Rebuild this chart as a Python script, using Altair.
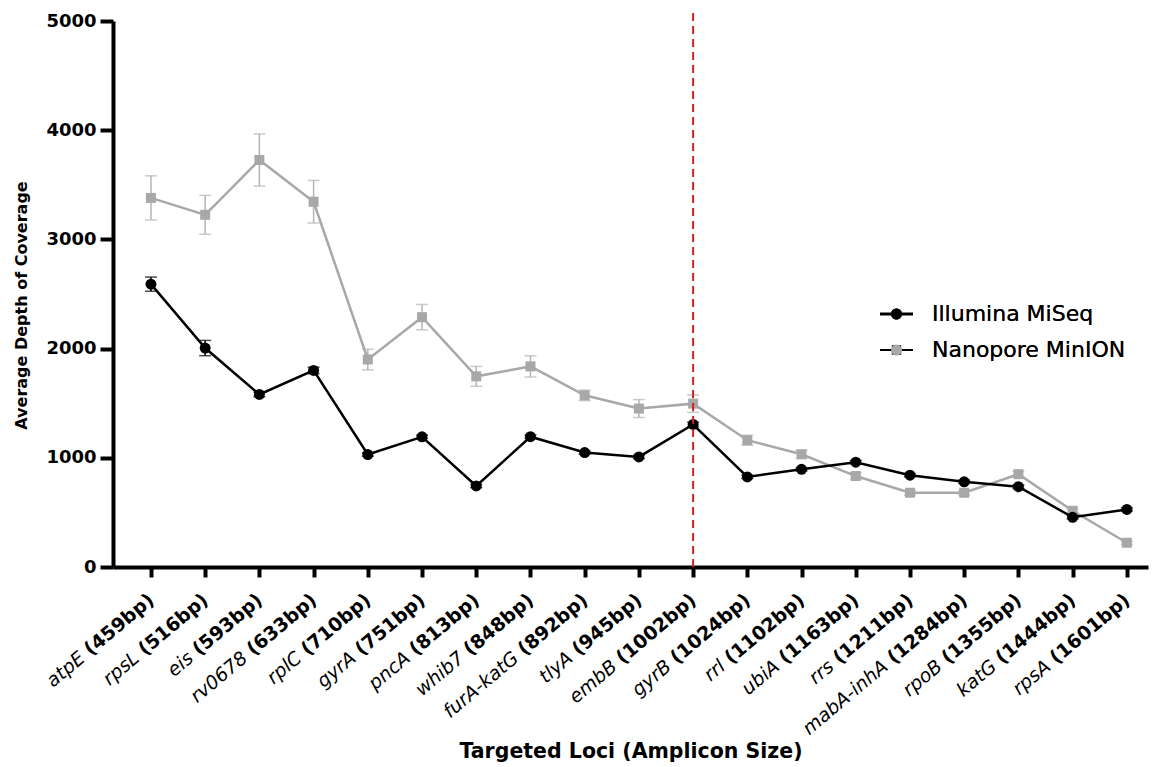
import json
import altair as alt
import pandas as pd

loci = ["atpE", "rpsL", "eis", "rv0678", "rplC", "gyrA", "pncA", "whib7", "furA-katG",
        "tlyA", "embB", "gyrB", "rrl", "ubiA", "rrs", "mabA-inhA", "rpoB", "katG", "rpsA"]
amplicon_sizes = ["459bp", "516bp", "593bp", "633bp", "710bp", "751bp", "813bp", "848bp", "892bp",
                  "945bp", "1002bp", "1024bp", "1102bp", "1163bp", "1211bp", "1284bp", "1355bp",
                  "1444bp", "1601bp"]
illumina_depth = [2590, 2005, 1580, 1800, 1030, 1192, 742, 1193, 1048, 1008, 1305, 825, 895,
                  960, 841, 780, 735, 455, 527]
illumina_err = [65, 70, 20, 30, 15, 15, 15, 15, 15, 15, 20, 15, 15, 15, 15, 15, 15, 15, 15]
nanopore_depth = [3380, 3225, 3727, 3345, 1900, 2288, 1746, 1837, 1572, 1451, 1496, 1161, 1032,
                  833, 680, 680, 850, 515, 222]
nanopore_err = [202, 178, 239, 195, 95, 116, 91, 97, 48, 82, 80, 45, 37, 30, 20, 20, 25, 20, 15]
series_names = ["Illumina MiSeq", "Nanopore MinION"]
series_colors = ["#000000", "#a8a8a8"]
divider_locus = "embB"
divider_top = 5090
y_ticks = [0, 1000, 2000, 3000, 4000, 5000]

labels = [f"{g} ({s})" for g, s in zip(loci, amplicon_sizes)]
positions = list(range(len(labels)))

rows = []
for name, vals, errs in [(series_names[0], illumina_depth, illumina_err),
                         (series_names[1], nanopore_depth, nanopore_err)]:
    for i, (v, e) in enumerate(zip(vals, errs)):
        rows.append({"idx": i, "series": name, "depth": v, "lo": v - e, "hi": v + e})
df = pd.DataFrame(rows)

FONT = "DejaVu Sans"
LABEL_SIZE = 19
ANGLE = -40
LBL = json.dumps(labels)

x_scale = alt.Scale(domain=[-0.70, 18.39], nice=False, zero=False)
y_scale = alt.Scale(domain=[0, 5000], nice=False, zero=True)
color_scale = alt.Scale(domain=series_names, range=series_colors)

y_axis = alt.Axis(values=y_ticks, format="d", labelFont=FONT, labelFontWeight="bold",
                  labelFontSize=18, labelColor="black", labelPadding=4, domainColor="black",
                  domainWidth=4, tickColor="black", tickWidth=4, tickSize=13, grid=False,
                  title="Average Depth of Coverage", titleFont=FONT, titleFontWeight="bold",
                  titleFontSize=16, titleColor="black", titlePadding=16, titleY=284)

bp_axis = alt.Axis(orient="bottom", values=positions,
                   labelExpr=f"'(' + split({LBL}[datum.value], ' (')[1]",
                   labelAngle=ANGLE, labelAlign="right", labelBaseline="middle",
                   labelFont=FONT, labelFontWeight="bold", labelFontSize=LABEL_SIZE,
                   labelColor="black", labelPadding=20, labelOverlap=False, labelLimit=400,
                   labelFlush=False, labelBound=False,
                   domainColor="black", domainWidth=4, tickColor="black", tickWidth=4,
                   tickSize=10, grid=False,
                   title="Targeted Loci (Amplicon Size)", titleFont=FONT, titleFontWeight="bold",
                   titleFontSize=20.5, titleColor="black", titleBaseline="alphabetic", titleY=190)

cond_test = f"length(split({LBL}[datum.value], ' (')[1]) > 6"
gene_axis = alt.Axis(orient="bottom", values=positions,
                     labelExpr=f"split({LBL}[datum.value], ' (')[0]",
                     labelAngle=ANGLE, labelAlign="right", labelBaseline="middle",
                     labelFont=FONT, labelFontStyle="italic", labelFontWeight="normal",
                     labelFontSize=LABEL_SIZE, labelColor="black",
                     labelPadding={"condition": {"test": cond_test, "value": 20 + 66.5},
                                   "value": 20 + 58.1},
                     labelOffset={"condition": {"test": cond_test, "value": -79.3},
                                  "value": -69.2},
                     labelOverlap=False, labelLimit=400, labelFlush=False, labelBound=False,
                     domain=False, ticks=True, tickSize=10, tickOpacity=0, grid=False, title=None)


def xenc(axis=None):
    return alt.X("idx:Q", scale=x_scale, axis=axis)


def yenc(field):
    return alt.Y(f"{field}:Q", scale=y_scale, axis=y_axis)


def series_layers(name, err_color, x_axis, shape, size, cap_color):
    src = alt.Chart(df).transform_filter(alt.datum.series == name)
    err = src.mark_rule(color=err_color, strokeWidth=1.5).encode(
        x=xenc(), y=yenc("lo"), y2="hi:Q")
    cap_lo = src.mark_tick(color=cap_color, thickness=1.5, size=12, orient="horizontal").encode(
        x=xenc(), y=yenc("lo"))
    cap_hi = src.mark_tick(color=cap_color, thickness=1.5, size=12, orient="horizontal").encode(
        x=xenc(), y=yenc("hi"))
    line = src.mark_line(strokeWidth=2.5).encode(
        x=xenc(x_axis), y=yenc("depth"),
        color=alt.Color("series:N", scale=color_scale, legend=None))
    pts = src.mark_point(shape=shape, filled=True, size=size, opacity=1).encode(
        x=xenc(), y=yenc("depth"),
        color=alt.Color("series:N", scale=color_scale, legend=None))
    return [err, cap_lo, cap_hi, line, pts]


grey = series_layers(series_names[1], "#b4b4b4", bp_axis, "square", 100, "#b4b4b4")
black = series_layers(series_names[0], "#000000", gene_axis, "circle", 120, "#000000")

divider = alt.Chart(pd.DataFrame({"idx": [loci.index(divider_locus)], "bottom": [0],
                                  "top": [divider_top]})
                    ).mark_rule(color="#cc2222", strokeDash=[8, 5], strokeWidth=2).encode(
    x=xenc(), y=yenc("bottom"), y2="top:Q")

legend_paths = [
    "M-3,-0.27H-0.97V0.27H-3Z M0.97,-0.27H3V0.27H0.97Z M-1,0A1,1,0,1,0,1,0A1,1,0,1,0,-1,0Z",
    "M-3,-0.2H-0.85V0.2H-3Z M0.85,-0.2H3V0.2H0.85Z M-0.85,-0.85H0.85V0.85H-0.85Z",
]
leg = alt.Legend(title=None, orient="none", legendX=772.5, legendY=282, labelFont=FONT,
                 labelFontSize=22, labelColor="black", labelLimit=400, symbolSize=121,
                 labelOffset=24.5, rowPadding=14, padding=0, symbolStrokeWidth=0,
                 symbolOpacity=1)
legend_layer = alt.Chart(pd.DataFrame({"series": series_names})).mark_point(
    filled=True, opacity=0).encode(
    color=alt.Color("series:N", scale=alt.Scale(domain=series_names, range=series_colors),
                    legend=leg),
    shape=alt.Shape("series:N", scale=alt.Scale(domain=series_names, range=legend_paths),
                    legend=leg))

chart = alt.layer(*grey, *black, divider, legend_layer).resolve_axis(
    x="independent").resolve_scale(color="independent").properties(
    width=1035, height=546,
    padding={"left": 5, "top": 2, "right": 5, "bottom": 2},
    background="white",
).configure_view(stroke=None)

chart.save("out.html", embed_options={"renderer": "svg", "actions": False})
